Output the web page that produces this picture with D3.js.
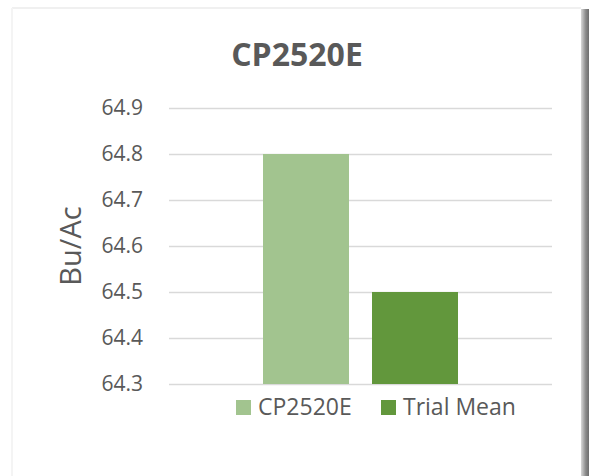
<!DOCTYPE html>
<html>
<head>
<meta charset="utf-8">
<script src="https://cdn.jsdelivr.net/npm/d3@7"></script>
<style>
    html, body { margin: 0; padding: 0; background: #fff; }
    svg { display: block; }
    text { font-family: "Open Sans", sans-serif; fill: #595959; }
</style>
</head>
<body>
<div id="chart"></div>
<script>
// Chart data
const categories = ['CP2520E'];
const seriesNames = ['CP2520E', 'Trial Mean'];
const seriesValues = [64.8, 64.5];
const seriesColors = ['#a2c48f', '#62973c'];
const yTicks = [64.3, 64.4, 64.5, 64.6, 64.7, 64.8, 64.9];
const chartTitle = 'CP2520E';
const yLabel = 'Bu/Ac';

const W = 589, H = 476;
const plot = { left: 169, right: 552, top: 108, bottom: 384 };

const svg = d3.select('#chart')
    .append('svg')
    .attr('width', W)
    .attr('height', H);

// Card frame with shadow on the right
const defs = svg.append('defs');
const grad = defs.append('linearGradient')
    .attr('id', 'shadow')
    .attr('x1', '0%').attr('x2', '100%')
    .attr('y1', '0%').attr('y2', '0%');
grad.append('stop').attr('offset', '0%').attr('stop-color', '#d8d8d8');
grad.append('stop').attr('offset', '60%').attr('stop-color', '#8a8a8a');
grad.append('stop').attr('offset', '100%').attr('stop-color', '#6e6e6e');

svg.append('rect')
    .attr('x', 581).attr('y', 9)
    .attr('width', 8).attr('height', H - 9)
    .attr('fill', 'url(#shadow)');

svg.append('line')
    .attr('x1', 12).attr('x2', 581)
    .attr('y1', 8).attr('y2', 8)
    .attr('stroke', '#f0f0f0')
    .attr('stroke-width', 2);

svg.append('line')
    .attr('x1', 12).attr('x2', 12)
    .attr('y1', 8).attr('y2', H)
    .attr('stroke', '#f4f4f4')
    .attr('stroke-width', 2);

// Scales
const yScale = d3.scaleLinear()
    .domain([d3.min(yTicks), d3.max(yTicks)])
    .range([plot.bottom, plot.top]);

const x0 = d3.scaleBand()
    .domain(categories)
    .range([plot.left, plot.right])
    .paddingInner(0)
    .paddingOuter(0.482);

const x1 = d3.scaleBand()
    .domain(seriesNames)
    .range([0, x0.bandwidth()])
    .paddingInner(0.211);

// Gridlines
const yAxis = d3.axisLeft(yScale)
    .tickValues(yTicks)
    .tickSize(-(plot.right - plot.left))
    .tickPadding(26)
    .tickFormat(d3.format('.1f'));

const axisG = svg.append('g')
    .attr('transform', `translate(${plot.left},0)`)
    .call(yAxis);

axisG.select('.domain').remove();
axisG.selectAll('.tick line')
    .attr('stroke', '#d9d9d9')
    .attr('stroke-width', 1.5);
axisG.selectAll('.tick text')
    .attr('fill', '#595959')
    .style('font-family', '"Open Sans", sans-serif')
    .style('font-size', '21px');

// Bars
const group = svg.append('g');
categories.forEach(cat => {
    group.selectAll('rect.bar')
        .data(seriesNames.map((s, i) => ({ name: s, value: seriesValues[i], color: seriesColors[i] })))
        .enter()
        .append('rect')
        .attr('class', 'bar')
        .attr('x', d => x0(cat) + x1(d.name))
        .attr('y', d => yScale(d.value))
        .attr('width', x1.bandwidth())
        .attr('height', d => yScale(d3.min(yTicks)) - yScale(d.value))
        .attr('fill', d => d.color);
});

// Title
svg.append('text')
    .attr('x', 297)
    .attr('y', 66)
    .attr('text-anchor', 'middle')
    .style('font-size', '32px')
    .style('font-weight', 'bold')
    .text(chartTitle);

// Y axis label
svg.append('text')
    .attr('transform', 'translate(81,246) rotate(-90)')
    .attr('text-anchor', 'middle')
    .style('font-size', '29px')
    .text(yLabel);

// Legend
const legendX = [236, 381];
const legend = svg.append('g');
seriesNames.forEach((name, i) => {
    legend.append('rect')
        .attr('x', legendX[i])
        .attr('y', 400)
        .attr('width', 15)
        .attr('height', 15)
        .attr('fill', seriesColors[i]);
    legend.append('text')
        .attr('x', legendX[i] + 22)
        .attr('y', 415)
        .style('font-size', '23px')
        .text(name);
});
</script>
</body>
</html>
